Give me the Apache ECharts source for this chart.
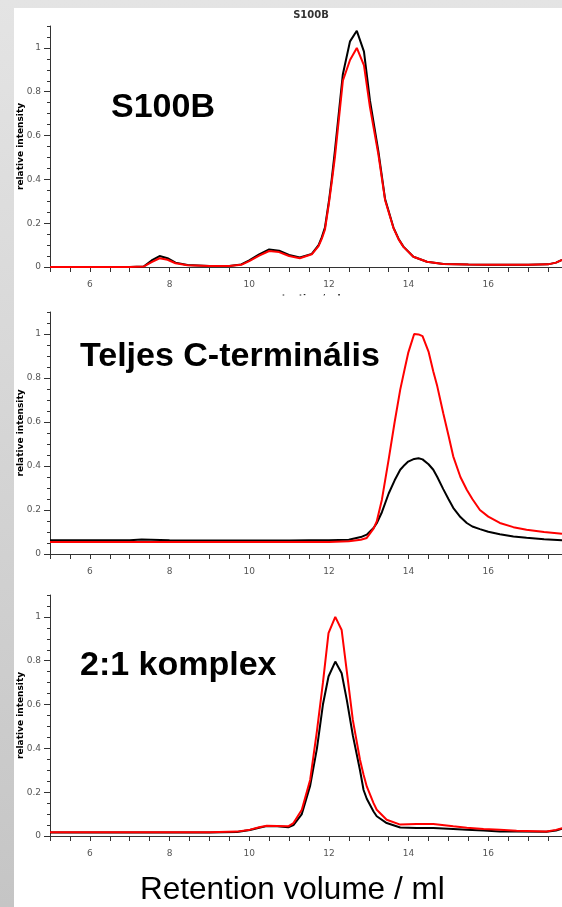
<!DOCTYPE html>
<html>
<head>
<meta charset="utf-8">
<script src="https://cdn.jsdelivr.net/npm/echarts@6/dist/echarts.min.js"></script>
<style>
  html, body { margin: 0; padding: 0; }
  body { width: 562px; height: 907px; overflow: hidden; }
  #wrap { position: relative; width: 562px; height: 907px;
          background: linear-gradient(to bottom, #e4e4e4, #c5c5c5); }
  #paper { position: absolute; left: 14px; top: 8px; width: 548px; height: 899px; background: #fff; }
  #chart { position: absolute; left: 0; top: 0; width: 562px; height: 907px; }
</style>
</head>
<body>
<div id="wrap">
  <div id="paper"></div>
  <div id="chart"></div>
</div>
<script>
// Size-exclusion chromatograms: retention volume (ml) vs. relative intensity

// Panel 1: S100B
const s100bVol   = [5, 6, 7, 7.35, 7.55, 7.75, 7.95, 8.15, 8.45, 9, 9.5, 9.8, 10.0, 10.25, 10.5, 10.75, 11.0, 11.27, 11.57, 11.74, 11.82, 11.9, 12.0, 12.07, 12.15, 12.35, 12.53, 12.7, 12.88, 13.03, 13.24, 13.41, 13.62, 13.75, 13.87, 14.12, 14.46, 14.87, 15.5, 16, 16.5, 17, 17.5, 17.7, 17.85];
const s100bBlack = [0, 0, 0, 0.002, 0.03, 0.05, 0.04, 0.02, 0.009, 0.005, 0.005, 0.012, 0.03, 0.058, 0.08, 0.074, 0.055, 0.043, 0.06, 0.1, 0.135, 0.18, 0.3, 0.4, 0.53, 0.88, 1.03, 1.078, 0.983, 0.76, 0.53, 0.31, 0.18, 0.128, 0.093, 0.047, 0.024, 0.014, 0.011, 0.01, 0.01, 0.01, 0.012, 0.02, 0.032];
const s100bRed   = [0, 0, 0, 0.002, 0.022, 0.04, 0.033, 0.017, 0.008, 0.005, 0.005, 0.01, 0.027, 0.052, 0.073, 0.068, 0.05, 0.04, 0.058, 0.095, 0.128, 0.17, 0.29, 0.385, 0.5, 0.85, 0.945, 1.0, 0.92, 0.73, 0.515, 0.305, 0.178, 0.126, 0.092, 0.047, 0.024, 0.014, 0.011, 0.01, 0.01, 0.01, 0.012, 0.02, 0.032];

// Panel 2: full C-terminal peptide
const ctermVol   = [5, 6, 7, 7.3, 8, 9, 10, 11, 11.5, 12.0, 12.5, 12.8, 12.95, 13.12, 13.2, 13.33, 13.5, 13.65, 13.79, 13.9, 13.99, 14.14, 14.25, 14.35, 14.5, 14.62, 14.72, 14.87, 15.0, 15.12, 15.3, 15.46, 15.6, 15.79, 16.0, 16.29, 16.63, 16.96, 17.4, 17.85];
const ctermBlack = [0.062, 0.062, 0.063, 0.066, 0.062, 0.061, 0.061, 0.061, 0.062, 0.063, 0.065, 0.077, 0.088, 0.118, 0.14, 0.19, 0.275, 0.335, 0.383, 0.405, 0.42, 0.432, 0.435, 0.43, 0.408, 0.383, 0.35, 0.295, 0.25, 0.21, 0.168, 0.141, 0.125, 0.113, 0.101, 0.09, 0.08, 0.074, 0.067, 0.062];
const ctermRed   = [0.054, 0.054, 0.054, 0.054, 0.054, 0.054, 0.054, 0.054, 0.054, 0.055, 0.058, 0.065, 0.073, 0.115, 0.148, 0.247, 0.43, 0.6, 0.747, 0.84, 0.914, 1.0, 0.998, 0.99, 0.92, 0.83, 0.762, 0.64, 0.54, 0.444, 0.35, 0.292, 0.25, 0.2, 0.17, 0.141, 0.122, 0.11, 0.1, 0.092];

// Panel 3: 2:1 complex
const complexVol   = [5, 6, 7, 8, 9, 9.69, 10.02, 10.25, 10.44, 10.7, 10.98, 11.11, 11.32, 11.53, 11.7, 11.85, 11.99, 12.16, 12.32, 12.45, 12.6, 12.78, 12.87, 12.95, 13.12, 13.2, 13.45, 13.79, 14.2, 14.62, 15.12, 15.46, 15.88, 16.29, 16.71, 17.46, 17.7, 17.85];
const complexBlack = [0.016, 0.016, 0.016, 0.016, 0.016, 0.018, 0.027, 0.038, 0.045, 0.044, 0.04, 0.05, 0.1, 0.23, 0.4, 0.6, 0.728, 0.796, 0.743, 0.62, 0.46, 0.3, 0.21, 0.17, 0.112, 0.09, 0.059, 0.039, 0.037, 0.036, 0.032, 0.029, 0.025, 0.021, 0.02, 0.019, 0.025, 0.033];
const complexRed   = [0.017, 0.017, 0.017, 0.017, 0.017, 0.02, 0.029, 0.04, 0.047, 0.046, 0.044, 0.059, 0.12, 0.257, 0.48, 0.7, 0.926, 1.0, 0.94, 0.75, 0.53, 0.348, 0.28, 0.226, 0.15, 0.12, 0.074, 0.052, 0.055, 0.055, 0.044, 0.038, 0.032, 0.028, 0.024, 0.021, 0.028, 0.036];

// Axis tick labels
const xTickLabels = [6, 8, 10, 12, 14, 16];
const yTickLabels = [0, 0.2, 0.4, 0.6, 0.8, 1];

// Minor tick positions (every 0.5 ml / every 0.05 intensity)
const xMinorTicks = [];
for (let k = 0; k <= 25; k++) xMinorTicks.push(5 + k * 0.5);
const yMinorTicks = [];
for (let k = 0; k <= 22; k++) yMinorTicks.push(+(k * 0.05).toFixed(2));

const X_MIN = 5, X_MAX = 17.85, Y_MAX = 1.1;
const AXIS_COLOR = '#333';
const LABEL_COLOR = '#555';
const SMALL_FONT = '"DejaVu Sans", sans-serif';
const BIG_FONT = '"Liberation Sans", Arial, sans-serif';

const grids = [
  { left: 50, top: 26,  width: 512, height: 241 },
  { left: 50, top: 312, width: 512, height: 242 },
  { left: 50, top: 595, width: 512, height: 241 }
].map(g => Object.assign({ containLabel: false, outerBoundsMode: 'none' }, g));

function xAxisFor(i, withName) {
  return {
    type: 'value', gridIndex: i, min: X_MIN, max: X_MAX, position: 'bottom',
    name: withName ? 'retention / ml' : '',
    nameLocation: 'middle', nameGap: 27, nameMoveOverlap: false,
    nameTextStyle: { fontFamily: SMALL_FONT, fontWeight: 'bold', fontSize: 9, color: '#222' },
    axisLine: { show: true, onZero: false, lineStyle: { color: AXIS_COLOR, width: 1 } },
    axisTick: { show: true, customValues: xMinorTicks, length: 5, lineStyle: { color: AXIS_COLOR } },
    axisLabel: { show: true, customValues: xTickLabels, margin: 13, fontSize: 9,
                 color: LABEL_COLOR, fontFamily: SMALL_FONT },
    splitLine: { show: false }
  };
}

function yAxesFor(i) {
  return [
    {
      type: 'value', gridIndex: i, position: 'left', min: 0, max: Y_MAX,
      name: 'relative intensity', nameLocation: 'middle', nameGap: 25, nameMoveOverlap: false,
      nameTextStyle: { fontFamily: SMALL_FONT, fontWeight: 'bold', fontSize: 9, color: '#000' },
      axisLine: { show: true, onZero: false, lineStyle: { color: AXIS_COLOR, width: 1 } },
      axisTick: { show: true, customValues: yTickLabels, length: 6, lineStyle: { color: AXIS_COLOR } },
      axisLabel: { show: true, customValues: yTickLabels, margin: 9, fontSize: 9,
                   color: LABEL_COLOR, fontFamily: SMALL_FONT },
      splitLine: { show: false }
    },
    {
      type: 'value', gridIndex: i, position: 'left', min: 0, max: Y_MAX,
      axisLine: { show: false },
      axisTick: { show: true, customValues: yMinorTicks, length: 3, lineStyle: { color: AXIS_COLOR } },
      axisLabel: { show: false },
      splitLine: { show: false }
    }
  ];
}

function trace(vol, vals, color, panel) {
  return {
    type: 'line', xAxisIndex: panel, yAxisIndex: panel * 2,
    data: vol.map((v, i) => [v, vals[i]]),
    showSymbol: false, smooth: false, clip: true,
    lineStyle: { color: color, width: 2 },
    itemStyle: { color: color },
    emphasis: { disabled: true }
  };
}

function bigLabel(text, x, y, size, weight) {
  return {
    type: 'text', x: x, y: y, z: 100,
    style: {
      text: text, fill: '#000',
      font: weight + ' ' + size + 'px ' + BIG_FONT,
      textAlign: 'left', textVerticalAlign: 'middle', align: 'left', verticalAlign: 'middle'
    }
  };
}

const chart = echarts.init(document.getElementById('chart'), null, { renderer: 'canvas' });
chart.setOption({
  animation: false,
  backgroundColor: 'transparent',
  grid: grids,
  xAxis: [xAxisFor(0, true), xAxisFor(1, false), xAxisFor(2, false)],
  yAxis: [].concat(yAxesFor(0), yAxesFor(1), yAxesFor(2)),
  series: [
    trace(s100bVol, s100bBlack, '#000000', 0),
    trace(s100bVol, s100bRed, '#ff0000', 0),
    trace(ctermVol, ctermBlack, '#000000', 1),
    trace(ctermVol, ctermRed, '#ff0000', 1),
    trace(complexVol, complexBlack, '#000000', 2),
    trace(complexVol, complexRed, '#ff0000', 2)
  ],
  graphic: [
    // sheet edge of the second panel, overlapping the first panel's axis title
    { type: 'rect', z: 90, shape: { x: 14, y: 295.5, width: 548, height: 10 }, style: { fill: '#fff' } },
    {
      type: 'text', x: 311, y: 15, z: 100,
      style: { text: 'S100B', fill: '#333', font: 'bold 10px ' + SMALL_FONT,
               textAlign: 'center', textVerticalAlign: 'middle', align: 'center', verticalAlign: 'middle' }
    },
    bigLabel('S100B', 111, 107.2, 34, 'bold'),
    bigLabel('Teljes C-terminális', 80, 356.2, 34, 'bold'),
    bigLabel('2:1 komplex', 80, 665.2, 34, 'bold'),
    bigLabel('Retention volume / ml', 140, 890.8, 31.5, 'normal')
  ]
});
</script>
</body>
</html>
